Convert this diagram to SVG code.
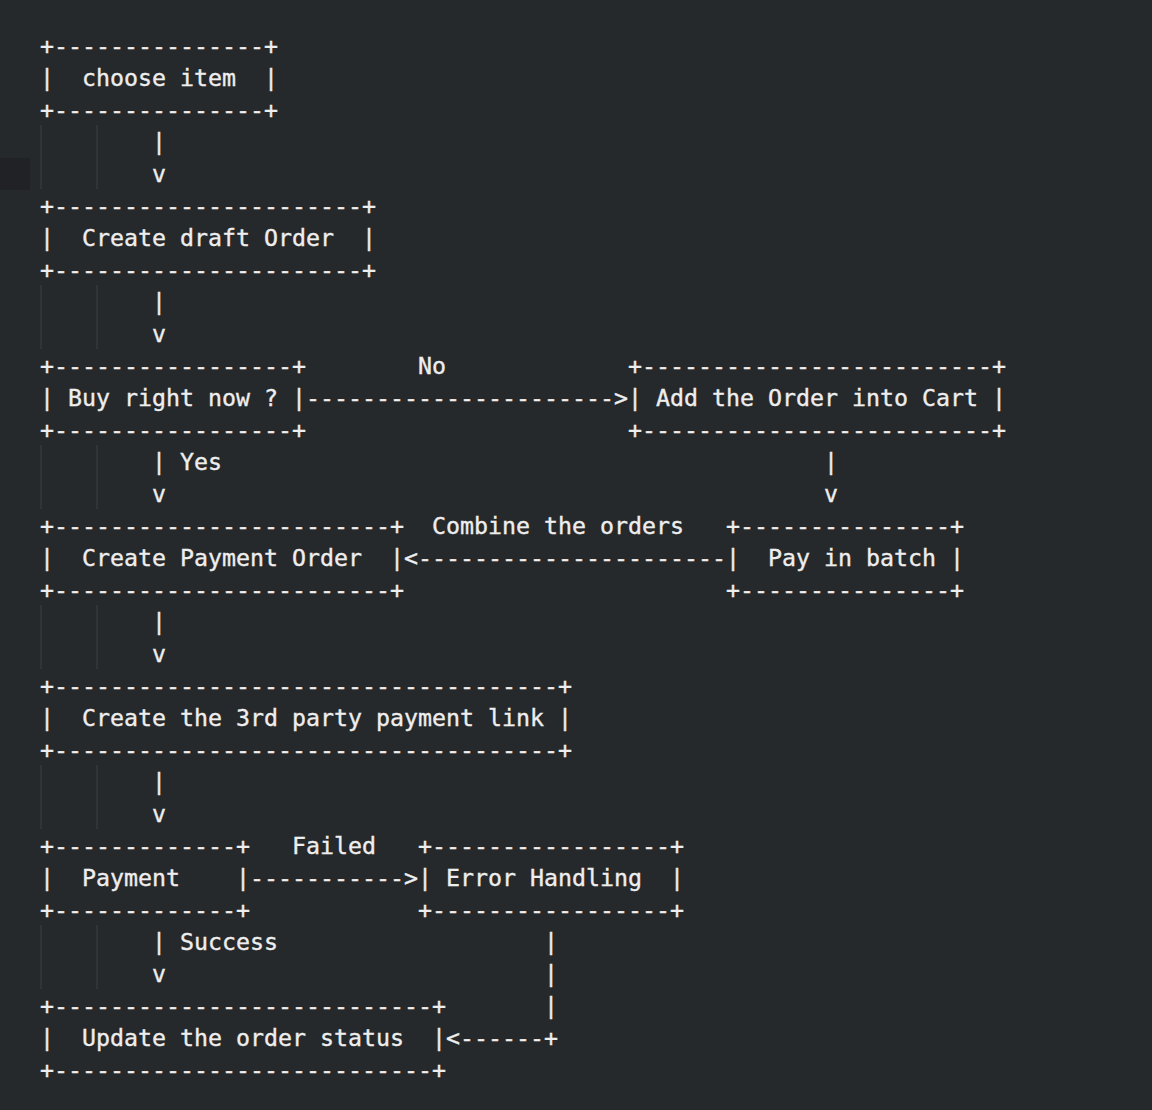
<svg xmlns="http://www.w3.org/2000/svg" width="1152" height="1110" viewBox="0 0 1152 1110">
<style>
text{font-family:"DejaVu Sans Mono","Liberation Mono",monospace;font-size:23.25px;fill:#eeeeee;stroke:#eeeeee;stroke-width:0.35px;white-space:pre}
.g{stroke:#303337;stroke-width:2}
</style>
<rect x="0" y="0" width="1152" height="1110" fill="#26292c"/>
<rect x="0" y="158" width="30" height="32" fill="#202225"/>
<g id="indent-guides">
<line class="g" x1="41" y1="125" x2="41" y2="189"/><line class="g" x1="97" y1="125" x2="97" y2="189"/>
<line class="g" x1="41" y1="285" x2="41" y2="349"/><line class="g" x1="97" y1="285" x2="97" y2="349"/>
<line class="g" x1="41" y1="445" x2="41" y2="509"/><line class="g" x1="97" y1="445" x2="97" y2="509"/>
<line class="g" x1="41" y1="605" x2="41" y2="669"/><line class="g" x1="97" y1="605" x2="97" y2="669"/>
<line class="g" x1="41" y1="765" x2="41" y2="829"/><line class="g" x1="97" y1="765" x2="97" y2="829"/>
<line class="g" x1="41" y1="925" x2="41" y2="989"/><line class="g" x1="97" y1="925" x2="97" y2="989"/>
</g>
<g id="node-choose-item">
<text x="40" y="54" xml:space="preserve">+---------------+</text>
<text x="40" y="86" xml:space="preserve">|  choose item  |</text>
<text x="40" y="118" xml:space="preserve">+---------------+</text>
</g>
<g id="node-create-draft-order">
<text x="40" y="214" xml:space="preserve">+----------------------+</text>
<text x="40" y="246" xml:space="preserve">|  Create draft Order  |</text>
<text x="40" y="278" xml:space="preserve">+----------------------+</text>
</g>
<g id="node-buy-right-now">
<text x="40" y="374" xml:space="preserve">+-----------------+</text>
<text x="40" y="406" xml:space="preserve">| Buy right now ? |</text>
<text x="40" y="438" xml:space="preserve">+-----------------+</text>
</g>
<g id="node-add-to-cart">
<text x="628" y="374" xml:space="preserve">+-------------------------+</text>
<text x="628" y="406" xml:space="preserve">| Add the Order into Cart |</text>
<text x="628" y="438" xml:space="preserve">+-------------------------+</text>
</g>
<g id="node-create-payment-order">
<text x="40" y="534" xml:space="preserve">+------------------------+</text>
<text x="40" y="566" xml:space="preserve">|  Create Payment Order  |</text>
<text x="40" y="598" xml:space="preserve">+------------------------+</text>
</g>
<g id="node-pay-in-batch">
<text x="726" y="534" xml:space="preserve">+---------------+</text>
<text x="726" y="566" xml:space="preserve">|  Pay in batch |</text>
<text x="726" y="598" xml:space="preserve">+---------------+</text>
</g>
<g id="node-payment-link">
<text x="40" y="694" xml:space="preserve">+------------------------------------+</text>
<text x="40" y="726" xml:space="preserve">|  Create the 3rd party payment link |</text>
<text x="40" y="758" xml:space="preserve">+------------------------------------+</text>
</g>
<g id="node-payment">
<text x="40" y="854" xml:space="preserve">+-------------+</text>
<text x="40" y="886" xml:space="preserve">|  Payment    |</text>
<text x="40" y="918" xml:space="preserve">+-------------+</text>
</g>
<g id="node-error-handling">
<text x="418" y="854" xml:space="preserve">+-----------------+</text>
<text x="418" y="886" xml:space="preserve">| Error Handling  |</text>
<text x="418" y="918" xml:space="preserve">+-----------------+</text>
</g>
<g id="node-update-status">
<text x="40" y="1014" xml:space="preserve">+---------------------------+</text>
<text x="40" y="1046" xml:space="preserve">|  Update the order status  |</text>
<text x="40" y="1078" xml:space="preserve">+---------------------------+</text>
</g>
<g id="connectors">
<text x="152" y="150">|</text><text x="152" y="182">v</text>
<text x="152" y="310">|</text><text x="152" y="342">v</text>
<text x="418" y="374">No</text>
<text x="306" y="406" xml:space="preserve">----------------------&gt;</text>
<text x="152" y="470" xml:space="preserve">| Yes</text><text x="152" y="502">v</text>
<text x="824" y="470">|</text><text x="824" y="502">v</text>
<text x="432" y="534" xml:space="preserve">Combine the orders</text>
<text x="404" y="566" xml:space="preserve">&lt;----------------------</text>
<text x="152" y="630">|</text><text x="152" y="662">v</text>
<text x="152" y="790">|</text><text x="152" y="822">v</text>
<text x="292" y="854">Failed</text>
<text x="250" y="886" xml:space="preserve">-----------&gt;</text>
<text x="152" y="950" xml:space="preserve">| Success</text><text x="152" y="982">v</text>
<text x="544" y="950">|</text><text x="544" y="982">|</text><text x="544" y="1014">|</text>
<text x="446" y="1046" xml:space="preserve">&lt;------+</text>
</g>
</svg>
